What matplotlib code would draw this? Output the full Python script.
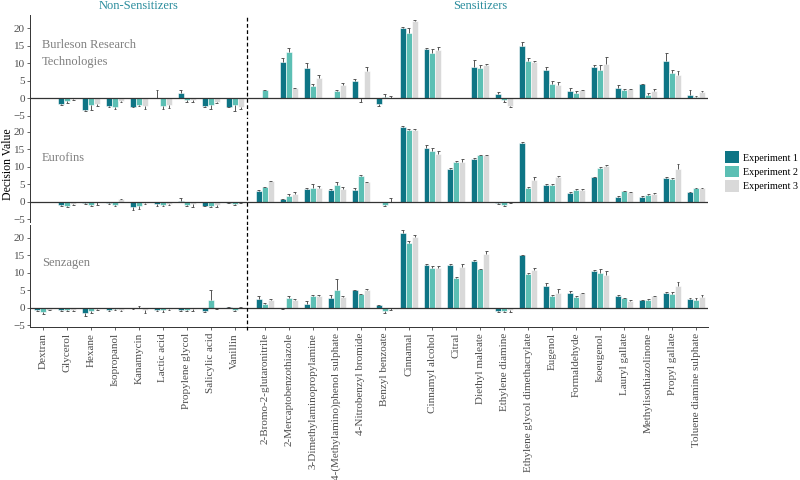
import numpy as np
import matplotlib
matplotlib.use("Agg")
import matplotlib.pyplot as plt
from matplotlib.patches import Patch

plt.rcParams['font.family'] = ['Liberation Serif', 'DejaVu Serif']

nan = np.nan

# -------------------------------
# Data
# -------------------------------
non_sensitizers = ["Dextran", "Glycerol", "Hexane", "Isopropanol", "Kanamycin",
                   "Lactic acid", "Propylene glycol", "Salicylic acid", "Vanillin"]
sensitizers = ["2-Bromo-2-glutaronitrile", "2-Mercaptobenzothiazole",
               "3-Dimethylaminopropylamine", "4-(Methylamino)phenol sulphate",
               "4-Nitrobenzyl bromide", "Benzyl benzoate", "Cinnamal",
               "Cinnamyl alcohol", "Citral", "Diethyl maleate", "Ethylene diamine",
               "Ethylene glycol dimethacrylate", "Eugenol", "Formaldehyde",
               "Isoeugenol", "Lauryl gallate", "Methylisothiazolinone",
               "Propyl gallate", "Toluene diamine sulphate"]
labs = ["Burleson Research\nTechnologies", "Eurofins", "Senzagen"]
experiments = ["Experiment 1", "Experiment 2", "Experiment 3"]

# mean decision values, and the end point of each error bar
brt_exp1 = [nan, -1.7, -3.3, -2.3, -2.5, 0.1, 1.5, -2.3, -2.5, nan, 10.3, 8.7, nan, 5.0, -1.8,
            19.9, 14.0, nan, 9.0, 1.2, 15.0, 8.1, 2.1, 9.0, 2.9, 4.1, 10.7, 1.0]
brt_err1 = [nan, -1.9, -3.6, -2.5, -2.6, 2.3, 2.2, -2.5, -2.7, nan, 11.3, 10.0, nan, 5.5, -2.2,
            20.3, 14.3, nan, 10.9, 1.6, 16.0, 8.9, 3.0, 9.4, 3.8, 4.1, 13.0, 2.2]
brt_exp2 = [nan, -0.8, -2.0, -2.7, -2.0, -2.3, -0.7, -2.0, -2.0, 2.3, 13.2, 3.3, 2.1, 0.0, 0.3,
            18.7, 12.9, nan, 8.7, -0.7, 10.6, 3.9, 1.5, 7.9, 2.3, 1.0, 7.2, 0.4]
brt_err2 = [nan, -1.3, -3.3, -3.0, -2.4, -3.2, -1.2, -3.1, -3.6, 2.4, 14.2, 4.0, 2.4, -1.2, 1.1,
            20.0, 13.9, nan, 9.3, -1.2, 11.3, 5.0, 2.0, 9.3, 2.5, 1.4, 8.0, 0.7]
brt_exp3 = [nan, -0.3, -1.8, -0.8, -2.3, -2.0, -0.7, -1.0, -2.5, nan, 2.9, 5.8, 3.6, 7.8, 0.1,
            21.9, 13.8, nan, 9.4, -2.2, 10.4, 3.6, 2.3, 9.8, 2.5, 2.1, 6.7, 1.6]
brt_err3 = [nan, -0.5, -2.3, -1.0, -3.2, -2.8, -1.0, -1.5, -3.2, nan, 3.0, 6.7, 4.4, 8.8, 0.6,
            22.3, 14.7, nan, 9.6, -2.6, 10.6, 4.7, 2.4, 11.7, 2.6, 2.5, 7.6, 2.0]

euro_exp1 = [nan, -1.0, -0.3, -0.3, -1.5, -0.7, 0.3, -1.1, -0.2, 3.0, 0.7, 3.8, 3.3, 3.3, -0.1,
             21.4, 15.4, 9.3, 12.3, -0.2, 16.8, 4.8, 2.5, 7.0, 1.4, 1.5, 6.8, 2.7]
euro_err1 = [nan, -1.3, -0.5, -0.7, -2.2, -1.2, 1.0, -1.3, -0.4, 3.3, 0.9, 3.9, 3.6, 4.1, -0.1,
             21.6, 16.3, 9.7, 12.5, -0.5, 17.0, 5.0, 2.8, 7.2, 1.8, 1.7, 7.0, 2.9]
euro_exp2 = [nan, -1.3, -1.0, -0.8, -1.3, -0.8, -1.0, -1.1, -0.7, 4.2, 1.8, 4.1, 4.8, 7.3, -0.8,
             20.6, 14.6, 11.3, 13.4, -0.8, 4.0, 4.8, 3.3, 9.6, 3.0, 2.0, 6.6, 4.0]
euro_err2 = [nan, -1.5, -1.3, -1.1, -2.0, -1.3, -1.3, -1.5, -1.0, 4.4, 2.3, 5.2, 5.6, 7.6, -1.1,
             20.8, 15.3, 11.6, 13.5, -1.2, 4.2, 5.0, 3.8, 9.9, 3.2, 2.2, 6.8, 4.1]
euro_exp3 = [nan, -0.6, 0.0, 0.7, -0.3, -0.5, -0.5, -1.0, -0.3, 5.9, 2.3, 3.9, 3.8, 5.7, 0.0,
             20.7, 13.8, 11.3, 13.4, -0.1, 6.2, 7.0, 3.3, 10.2, 2.8, 2.4, 9.3, 3.9]
euro_err3 = [nan, -0.8, -0.9, 0.9, -0.5, -0.8, -1.5, -1.4, -0.4, 6.1, 2.7, 4.6, 4.2, 5.8, 1.0,
             20.9, 14.5, 12.4, 13.5, -0.2, 7.0, 7.5, 3.6, 10.6, 2.9, 2.6, 10.8, 4.0]

senz_exp1 = [-0.6, -0.6, -1.4, -0.6, -0.2, -0.6, -0.6, -0.8, 0.1, 2.6, -0.2, 1.0, 2.9, 5.0, 0.7,
             21.5, 12.2, 12.2, 13.4, -0.8, 15.0, 6.3, 4.1, 10.5, 3.5, 2.1, 4.2, 2.5]
senz_err1 = [-0.8, -0.8, -2.3, -0.8, -0.3, -0.9, -0.9, -1.3, 0.3, 3.4, -0.3, 1.9, 3.7, 5.1, 0.8,
             22.3, 12.6, 12.6, 13.6, -1.1, 15.2, 7.1, 4.7, 10.9, 3.6, 2.3, 4.5, 2.9]
senz_exp2 = [-1.2, -0.6, -0.9, -0.4, 0.0, -0.7, -0.5, 2.2, -0.5, 1.2, 2.9, 3.4, 5.2, 3.8, -0.8,
             18.4, 11.4, 8.6, 11.0, -0.8, 9.7, 3.4, 3.0, 10.0, 2.7, 2.3, 3.9, 2.3]
senz_err2 = [-1.8, -1.0, -1.4, -0.6, 0.4, -1.2, -1.0, 5.0, -0.9, 1.3, 3.5, 3.6, 8.3, 3.9, -1.6,
             19.2, 12.0, 8.9, 11.1, -1.3, 9.9, 3.6, 3.4, 11.0, 2.9, 2.6, 4.5, 2.9]
senz_exp3 = [-0.5, -0.6, -0.4, -0.6, -0.5, -0.4, -0.3, -0.1, 0.1, 2.1, 2.2, 3.5, 3.1, 5.0, -0.1,
             20.1, 11.4, 11.7, 15.3, -0.6, 10.9, 4.3, 4.1, 9.5, 2.0, 3.3, 6.2, 3.1]
senz_err3 = [-0.7, -0.9, -0.6, -0.8, -1.4, -0.7, -0.9, -0.3, 0.3, 2.6, 2.4, 3.7, 3.5, 5.5, -0.5,
             20.9, 12.0, 12.4, 16.1, -1.3, 11.4, 5.3, 4.2, 10.4, 2.1, 3.4, 7.5, 3.6]

panel_values = [[brt_exp1, brt_exp2, brt_exp3],
                [euro_exp1, euro_exp2, euro_exp3],
                [senz_exp1, senz_exp2, senz_exp3]]
panel_errors = [[brt_err1, brt_err2, brt_err3],
                [euro_err1, euro_err2, euro_err3],
                [senz_err1, senz_err2, senz_err3]]

colors = ["#0e7585", "#5cbfb4", "#d9d9d9"]
title_color = "#2b8d9d"

# -------------------------------
# Positions (small gap between the two groups)
# -------------------------------
categories = non_sensitizers + sensitizers
n_non = len(non_sensitizers)
x = np.concatenate([np.arange(n_non), np.arange(len(sensitizers)) + n_non + 0.25])
divider = n_non - 0.5
bw = 0.25
offsets = [-bw, 0, bw]

fig = plt.figure(figsize=(8, 4.8), dpi=100)
left, width = 0.0375, 0.8475
height = 0.2135
bottoms = [0.755, 0.5385, 0.318]

axes = []
for p in range(3):
    ax = fig.add_axes([left, bottoms[p], width, height])
    axes.append(ax)
    for e in range(3):
        vals = np.array(panel_values[p][e], dtype=float)
        ends = np.array(panel_errors[p][e], dtype=float)
        xp = x + offsets[e]
        ax.bar(xp, vals, width=bw, color=colors[e], edgecolor='white',
               linewidth=0.4, zorder=2)
        ok = ~np.isnan(vals)
        ax.vlines(xp[ok], vals[ok], ends[ok], color='#555555', linewidth=0.7, zorder=3)
        ax.hlines(ends[ok], xp[ok] - 0.06, xp[ok] + 0.06, color='#555555',
                  linewidth=0.7, zorder=3)
    ax.axhline(0, color='#333333', linewidth=0.9, zorder=4)
    ax.axvline(divider, ymin=-0.03, ymax=1.0, color='black', linestyle=(0, (3, 2)),
               linewidth=0.9, clip_on=False, zorder=5)
    ax.set_xlim(-0.55, x[-1] + 0.5)
    ax.set_ylim(-5.6, 23.7)
    ax.set_yticks([-5, 0, 5, 10, 15, 20])
    for s in ['top', 'right']:
        ax.spines[s].set_visible(False)
    ax.spines['left'].set_color('#333333')
    ax.spines['left'].set_linewidth(0.7)
    ax.tick_params(axis='y', labelsize=8, colors='#4d4d4d', length=2.5, width=0.6,
                   pad=1.2)
    ax.text(-0.05, 12.7, labs[p], fontsize=9, color='#7f7f7f', va='center',
            ha='left', linespacing=1.6)
    if p < 2:
        ax.spines['bottom'].set_visible(False)
        ax.set_xticks([])
    else:
        ax.spines['bottom'].set_color('#333333')
        ax.spines['bottom'].set_linewidth(0.7)
        ax.set_xticks(x)
        ax.set_xticklabels(categories, rotation=90, ha='center', va='top')
        ax.tick_params(axis='x', labelsize=8, colors='#4d4d4d', length=2.5, width=0.6,
                       pad=1.5)

fig.text(0.003, 0.658, "Decision Value", fontsize=8.5, color='black',
         rotation=90, ha='left', va='center')

axes[0].text((x[0] + x[n_non - 1]) / 2, 1.03, "Non-Sensitizers", fontsize=9,
             color=title_color, ha='center', va='bottom',
             transform=axes[0].get_xaxis_transform())
axes[0].text((x[n_non] + x[-1]) / 2, 1.03, "Sensitizers", fontsize=9,
             color=title_color, ha='center', va='bottom',
             transform=axes[0].get_xaxis_transform())

handles = [Patch(facecolor=c, edgecolor='none') for c in colors]
fig.legend(handles, experiments, loc='upper left', bbox_to_anchor=(0.901, 0.693),
           frameon=False, fontsize=7.3, handlelength=1.4, handleheight=1.4,
           labelspacing=0.25, handletextpad=0.35, borderaxespad=0)

fig.savefig("out.png", dpi=100)
